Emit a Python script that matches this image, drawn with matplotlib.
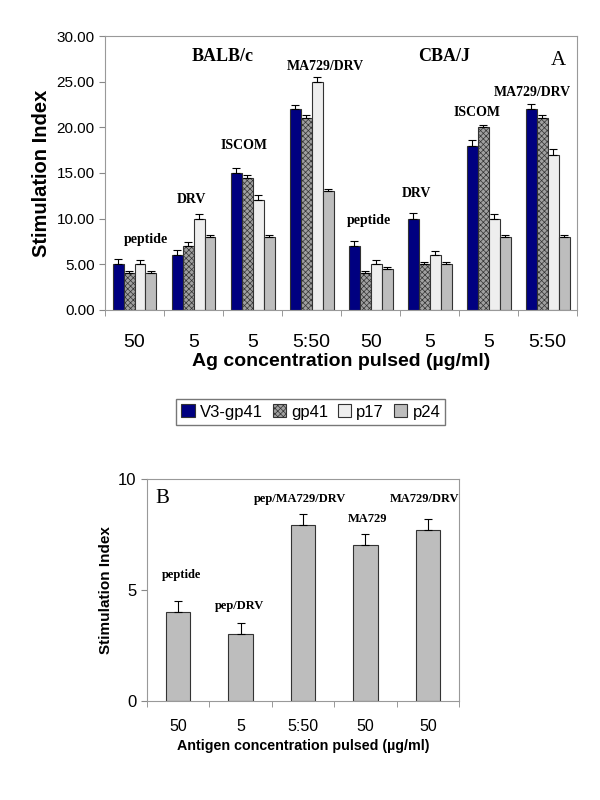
import matplotlib.pyplot as plt
import numpy as np

plt.rcParams['font.family'] = 'Liberation Sans'
plt.rcParams['hatch.linewidth'] = 0.5

# panel A data
groups_a = ['50', '5', '5', '5:50', '50', '5', '5', '5:50']
series = ['V3-gp41', 'gp41', 'p17', 'p24']
v3_gp41 = [5, 6, 15, 22, 7, 10, 18, 22]
gp41 = [4, 7, 14.5, 21, 4, 5, 20, 21]
p17 = [5, 10, 12, 25, 5, 6, 10, 17]
p24 = [4, 8, 8, 13, 4.5, 5, 8, 8]
err_v3 = [0.6, 0.6, 0.6, 0.5, 0.6, 0.6, 0.6, 0.6]
err_gp41 = [0.3, 0.4, 0.3, 0.3, 0.3, 0.3, 0.3, 0.3]
err_p17 = [0.5, 0.5, 0.6, 0.5, 0.5, 0.5, 0.5, 0.6]
err_p24 = [0.3, 0.2, 0.2, 0.2, 0.2, 0.3, 0.2, 0.2]
labels_a = ['peptide', 'DRV', 'ISCOM', 'MA729/DRV', 'peptide', 'DRV', 'ISCOM', 'MA729/DRV']

# panel B data
groups_b = ['50', '5', '5:50', '50', '50']
vals_b = [4.0, 3.0, 7.9, 7.0, 7.7]
err_b = [0.5, 0.5, 0.5, 0.5, 0.5]
labels_b = ['peptide', 'pep/DRV', 'pep/MA729/DRV', 'MA729', 'MA729/DRV']

fig = plt.figure(figsize=(6, 8), dpi=100)

# ---- panel A ----
ax = fig.add_axes([0.175, 0.6125, 0.787, 0.3425])
x = np.arange(len(groups_a))
w = 0.186
colors = ['#000080', '#a0a0a0', '#eeeeee', '#bdbdbd']
hatches = [None, 'xxxxxx', None, None]
vals = [v3_gp41, gp41, p17, p24]
errs = [err_v3, err_gp41, err_p17, err_p24]
for i in range(4):
    pos = x + (i - 1.5) * w
    ax.bar(pos, vals[i], w, color=colors[i], edgecolor='#333333', linewidth=0.8,
           hatch=hatches[i], label=series[i])
    ax.errorbar(pos, vals[i], yerr=[np.zeros(len(x)), errs[i]], fmt='none',
                ecolor='black', elinewidth=0.8, capsize=3, capthick=0.8)

ax.set_xlim(-0.5, 7.5)
ax.set_ylim(0, 30)
ax.set_yticks(np.arange(0, 31, 5))
ax.set_yticklabels(['%.2f' % v for v in np.arange(0, 31, 5)], fontsize=11)
ax.set_xticks(x)
ax.set_xticklabels(groups_a, fontsize=14)
ax.set_xticks(np.arange(-0.5, 8, 1), minor=True)
ax.tick_params(axis='x', which='major', length=0, pad=17)
ax.tick_params(axis='x', which='minor', length=4, color='#888888')
ax.tick_params(axis='y', length=4, color='#888888')
ax.set_ylabel('Stimulation Index', fontsize=14.5, fontweight='bold')
ax.set_xlabel('Ag concentration pulsed (\u00b5g/ml)', fontsize=14, fontweight='bold', labelpad=2)
for s in ax.spines.values():
    s.set_color('#999999')

lab_pos = [(0.19, 7.7), (0.96, 12.1), (1.86, 18.0), (3.23, 26.7),
           (3.97, 9.85), (4.77, 12.8), (5.8, 21.6), (6.74, 23.8)]
for t, (px, py) in zip(labels_a, lab_pos):
    ax.text(px, py, t, ha='center', va='center', fontsize=10, fontweight='bold',
            family='Liberation Serif')
ax.text(1.5, 27.8, 'BALB/c', ha='center', va='center', fontsize=13, fontweight='bold',
        family='Liberation Serif')
ax.text(5.25, 27.8, 'CBA/J', ha='center', va='center', fontsize=13, fontweight='bold',
        family='Liberation Serif')
ax.text(7.18, 27.3, 'A', ha='center', va='center', fontsize=15, family='Liberation Serif')

h, l = ax.get_legend_handles_labels()
fig.legend(h, l, loc='center', bbox_to_anchor=(0.518, 0.485), ncol=4, fontsize=12,
           frameon=True, fancybox=False, edgecolor='#555555', handlelength=0.8,
           handleheight=0.8, handletextpad=0.3, columnspacing=0.6, borderpad=0.3)

# ---- panel B ----
bx = fig.add_axes([0.245, 0.124, 0.52, 0.2775])
xb = np.arange(len(groups_b))
bx.bar(xb, vals_b, 0.39, color='#bdbdbd', edgecolor='#333333', linewidth=0.8)
bx.errorbar(xb, vals_b, yerr=[np.zeros(len(xb)), err_b], fmt='none', ecolor='black',
            elinewidth=0.8, capsize=3, capthick=0.8)
bx.set_xlim(-0.5, 4.5)
bx.set_ylim(0, 10)
bx.set_yticks([0, 5, 10])
bx.set_yticklabels(['0', '5', '10'], fontsize=12)
bx.set_xticks(xb)
bx.set_xticklabels(groups_b, fontsize=11.5)
bx.set_xticks(np.arange(-0.5, 5, 1), minor=True)
bx.tick_params(axis='x', which='major', length=0, pad=13)
bx.tick_params(axis='x', which='minor', length=4, color='#888888')
bx.tick_params(axis='y', length=4, color='#888888')
bx.set_ylabel('Stimulation Index', fontsize=11, fontweight='bold')
bx.set_xlabel('Antigen concentration pulsed (\u00b5g/ml)', fontsize=10.3, fontweight='bold',
              labelpad=4)
for s in bx.spines.values():
    s.set_color('#999999')

lab_pos_b = [(0.06, 5.65), (0.99, 4.25), (1.95, 9.1), (3.04, 8.2), (3.95, 9.1)]
for t, (px, py) in zip(labels_b, lab_pos_b):
    bx.text(px, py, t, ha='center', va='center', fontsize=9, fontweight='bold',
            family='Liberation Serif')
bx.text(-0.25, 9.1, 'B', ha='center', va='center', fontsize=15, family='Liberation Serif')

plt.savefig('out.png', dpi=100)
